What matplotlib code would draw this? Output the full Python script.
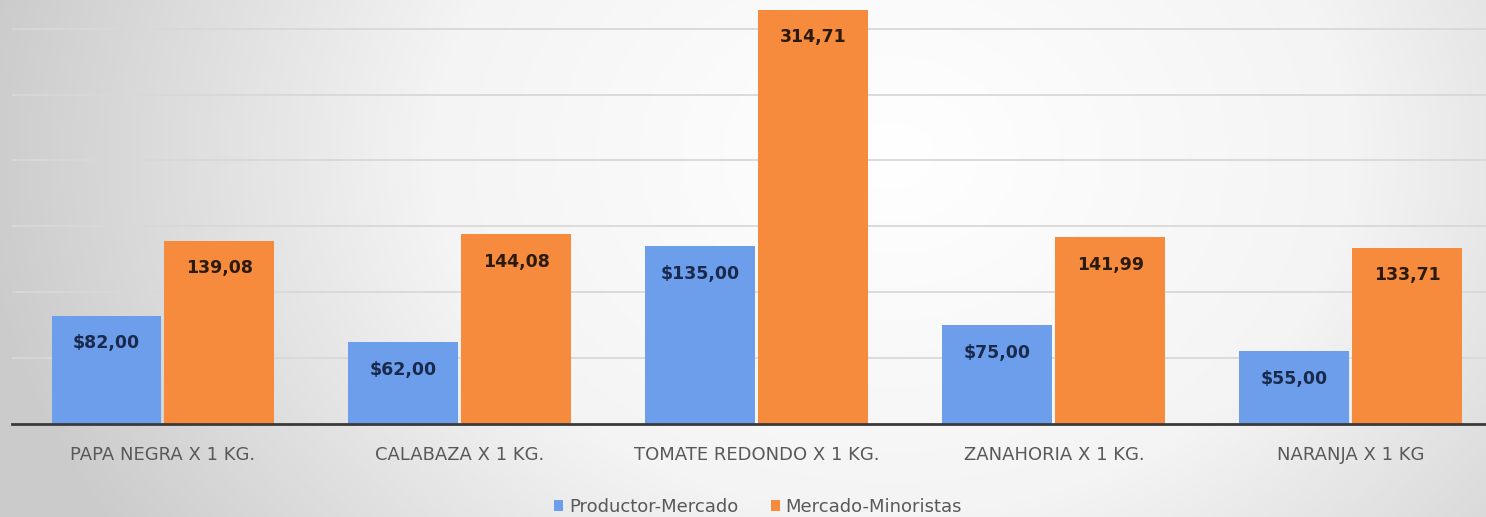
import numpy as np
import matplotlib
matplotlib.use('Agg')
import matplotlib.pyplot as plt
from matplotlib.colors import LinearSegmentedColormap

# data
categories = ['PAPA NEGRA X 1 KG.', 'CALABAZA X 1 KG.', 'TOMATE REDONDO X 1 KG.',
              'ZANAHORIA X 1 KG.', 'NARANJA X 1 KG']
productor_mercado = [82.00, 62.00, 135.00, 75.00, 55.00]
mercado_minoristas = [139.08, 144.08, 314.71, 141.99, 133.71]
series_names = ['Productor-Mercado', 'Mercado-Minoristas']

blue = '#6d9eeb'
orange = '#f68b3d'

W, H = 1486, 517
fig = plt.figure(figsize=(W / 100, H / 100), dpi=100)

# radial grey -> white background
bg = fig.add_axes([0, 0, 1, 1], zorder=0)
yy, xx = np.mgrid[0:1:300j, 0:1:800j]
dist = np.sqrt(((xx - 0.6) / 0.62) ** 2 + ((yy - 0.3) / 1.4) ** 2)
dist = np.clip(dist, 0, 1)
cmap = LinearSegmentedColormap.from_list('bg', ['#ffffff', '#f4f4f4', '#cbcbcb'])
bg.imshow(dist, cmap=cmap, aspect='auto', extent=[0, 1, 0, 1],
          origin='upper', vmin=0, vmax=1)
bg.axis('off')

ax = fig.add_axes([12 / W, 1 - 423.5 / H, 1 - 12 / W, 423.5 / H], zorder=1)
ax.patch.set_alpha(0)

x = np.arange(len(categories))
w = 0.37
off = 0.19
b1 = ax.bar(x - off, productor_mercado, w, color=blue, zorder=2, label=series_names[0])
b2 = ax.bar(x + off, mercado_minoristas, w, color=orange, zorder=2, label=series_names[1])

for rect, v in zip(b1, productor_mercado):
    ax.annotate('${:.2f}'.format(v).replace('.', ','),
                (rect.get_x() + rect.get_width() / 2, v),
                xytext=(0, -20), textcoords='offset points',
                ha='center', va='center', fontsize=12.5, fontweight='bold',
                color='#1a2a4c', zorder=3)
for rect, v in zip(b2, mercado_minoristas):
    ax.annotate('{:.2f}'.format(v).replace('.', ','),
                (rect.get_x() + rect.get_width() / 2, v),
                xytext=(0, -20), textcoords='offset points',
                ha='center', va='center', fontsize=12.5, fontweight='bold',
                color='#2b1a0e', zorder=3)

ax.set_xlim(-0.508, 4.455)
ax.set_ylim(0, 322)
ax.set_yticks([50, 100, 150, 200, 250, 300])
ax.yaxis.grid(True, color='#d8d8d8', linewidth=1.3, zorder=0)
ax.set_axisbelow(True)
ax.tick_params(axis='y', left=False, labelleft=False)
ax.set_xticks(x)
ax.set_xticklabels(categories, fontsize=13, color='#595959')
ax.tick_params(axis='x', length=0, pad=16)
for s in ['top', 'right', 'left']:
    ax.spines[s].set_visible(False)
ax.spines['bottom'].set_color('#3a3a3a')
ax.spines['bottom'].set_linewidth(2)

fig.legend(handles=[b1, b2], loc='center', bbox_to_anchor=(758 / W, 1 - 507 / H),
           ncol=2, frameon=False, fontsize=13, labelcolor='#595959',
           handlelength=0.5, handleheight=0.5, handletextpad=0.3, columnspacing=1.8)

fig.savefig('out.png', dpi=100)
